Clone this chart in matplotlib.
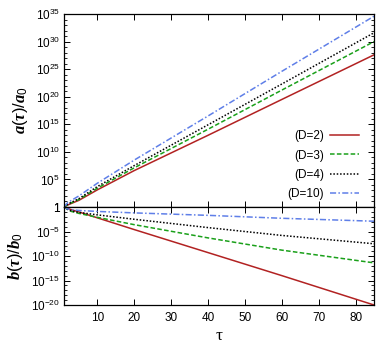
import numpy as np
import matplotlib
matplotlib.use("Agg")
import matplotlib.pyplot as plt
from matplotlib.ticker import FixedLocator, FuncFormatter

plt.rcParams['mathtext.fontset'] = 'custom'
plt.rcParams['mathtext.rm'] = 'Liberation Sans'
plt.rcParams['mathtext.sf'] = 'Liberation Sans'
plt.rcParams['mathtext.it'] = 'Liberation Serif:italic:bold'
plt.rcParams['mathtext.bf'] = 'Liberation Serif:bold'
plt.rcParams['font.family'] = ['Liberation Sans', 'DejaVu Sans']

# sample times
tau = [1, 2, 3, 5, 10, 20, 40, 60, 85]

# log10 of a(tau)/a0
loga_D2 = [0, 0.35, 0.65, 1.2, 3.1, 6.6, 13.0, 19.5, 27.6]
loga_D3 = [0, 0.45, 0.75, 1.35, 3.4, 7.1, 14.1, 21.2, 30.0]
loga_D4 = [0, 0.5, 0.85, 1.5, 3.7, 7.5, 14.9, 22.3, 31.6]
loga_D10 = [0, 0.8, 1.2, 2.0, 4.3, 8.5, 16.5, 24.6, 34.6]

# log10 of b(tau)/b0
logb_D2 = [0, -0.3, -0.55, -1.0, -2.2, -4.6, -9.3, -14.0, -20.0]
logb_D3 = [0, -0.5, -0.9, -1.3, -2.1, -3.6, -6.3, -8.8, -11.4]
logb_D4 = [0, -0.5, -0.8, -1.1, -1.6, -2.5, -4.2, -5.8, -7.5]
logb_D10 = [0, -0.4, -0.55, -0.7, -0.9, -1.2, -1.7, -2.3, -2.9]

labels = ['(D=2)', '(D=3)', '(D=4)', '(D=10)']
colors = ['#b22222', '#1aa01a', '#000000', '#5f7fe8']
styles = ['-', (0, (3, 1.5)), (0, (1, 1.2)), (0, (4, 1.5, 1, 1.5))]

x_ticks = [10, 20, 30, 40, 50, 60, 70, 80]
ya_ticks = [0, 5, 10, 15, 20, 25, 30, 35]
yb_ticks = [-20, -15, -10, -5, 0]

fig = plt.figure(figsize=(3.88, 3.46), dpi=100)
ax1 = fig.add_axes([0.165, 0.4017, 0.799, 0.5578])
ax2 = fig.add_axes([0.165, 0.1185, 0.799, 0.2832])

def fmt(v, pos):
    e = int(round(np.log10(v)))
    if e == 0:
        return '1'
    return r'$\mathrm{10^{%d}}$' % e

A = [loga_D2, loga_D3, loga_D4, loga_D10]
B = [logb_D2, logb_D3, logb_D4, logb_D10]
for a, b, lab, c, ls in zip(A, B, labels, colors, styles):
    ax1.plot(tau, np.power(10.0, a), color=c, ls=ls, lw=1.1, label=lab)
    ax2.plot(tau, np.power(10.0, b), color=c, ls=ls, lw=1.1)

for ax, yt, lo, hi in [(ax1, ya_ticks, 0, 35), (ax2, yb_ticks, -20, 0)]:
    ax.set_yscale('log')
    ax.set_xlim(1, 85)
    ax.set_ylim(10.0 ** lo, 10.0 ** hi)
    ax.yaxis.set_major_locator(FixedLocator([10.0 ** t for t in yt]))
    ax.yaxis.set_minor_locator(FixedLocator([10.0 ** t for t in range(lo, hi + 1)]))
    ax.yaxis.set_major_formatter(FuncFormatter(fmt))
    ax.yaxis.set_minor_formatter(FuncFormatter(lambda v, p: ''))
    ax.xaxis.set_major_locator(FixedLocator(x_ticks))
    ax.tick_params(which='both', direction='in', top=True, right=True,
                   labelsize=8.5, pad=3)
    ax.tick_params(axis='x', pad=5)
    ax.tick_params(which='major', length=4.5, width=0.7)
    ax.tick_params(which='minor', length=2.2, width=0.6)
    for s in ax.spines.values():
        s.set_linewidth(0.9)

ax1.tick_params(labelbottom=False)
ax2.set_xticklabels([str(t) for t in x_ticks])
ax2.set_xlabel('τ', fontsize=12.5, family='Liberation Serif', labelpad=3)
ax1.set_ylabel(r'$\mathit{a(\tau)/a_0}$', fontsize=12, labelpad=4)
ax2.set_ylabel(r'$\mathit{b(\tau)/b_0}$', fontsize=12, labelpad=4)

leg = ax1.legend(loc='lower right', frameon=False, markerfirst=False,
                 fontsize=8.5, handlelength=2.45, handletextpad=0.5,
                 labelspacing=0.62, bbox_to_anchor=(0.985, -0.02))
for t in leg.get_texts():
    t.set_ha('right')

fig.savefig('out.png', dpi=100)
